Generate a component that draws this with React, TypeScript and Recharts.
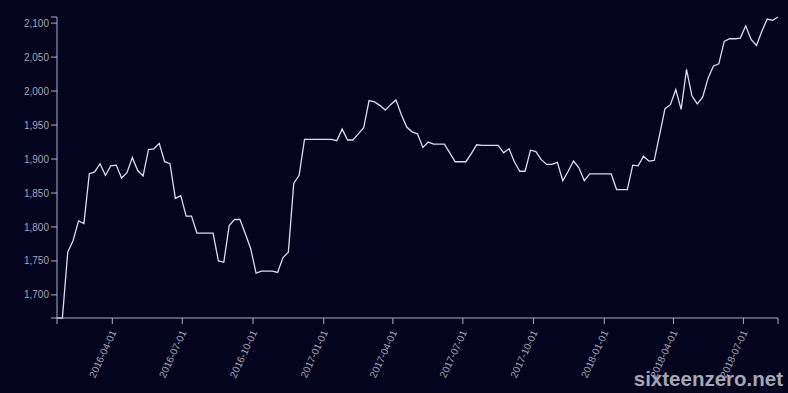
import { LineChart, Line, XAxis, YAxis } from 'recharts'

// weekly readings, first on 2016-01-20, last on 2018-08-15
const startDate = '2016-01-20'
const values = [
  1666, 1666, 1763, 1780, 1809, 1805, 1878, 1881, 1893, 1876,
  1890, 1891, 1872, 1880, 1902, 1883, 1875, 1914, 1915, 1923,
  1896, 1893, 1842, 1846, 1816, 1816, 1791, 1791, 1791, 1791,
  1750, 1748, 1802, 1811, 1811, 1790, 1768, 1732, 1735, 1735,
  1735, 1733, 1755, 1763, 1864, 1876, 1929, 1929, 1929, 1929,
  1929, 1929, 1927, 1944, 1928, 1928, 1937, 1946, 1986, 1984,
  1979, 1972, 1980, 1987, 1965, 1947, 1940, 1937, 1917, 1925,
  1922, 1922, 1922, 1909, 1896, 1896, 1896, 1908, 1921, 1920,
  1920, 1920, 1920, 1909, 1915, 1896, 1882, 1882, 1913, 1911,
  1899, 1892, 1892, 1895, 1868, 1882, 1897, 1887, 1868, 1878,
  1878, 1878, 1878, 1878, 1855, 1855, 1855, 1891, 1890, 1904,
  1897, 1898, 1936, 1974, 1980, 2002, 1973, 2032, 1993, 1981,
  1991, 2019, 2037, 2040, 2073, 2077, 2077, 2078, 2096, 2076,
  2067, 2088, 2106, 2104, 2109,
]
const xTickDates = [
  '2016-04-01', '2016-07-01', '2016-10-01', '2017-01-01', '2017-04-01',
  '2017-07-01', '2017-10-01', '2018-01-01', '2018-04-01', '2018-07-01',
]
const yTickValues = [1700, 1750, 1800, 1850, 1900, 1950, 2000, 2050, 2100]

const WEEK = 7 * 24 * 3600 * 1000
const t0 = Date.parse(startDate + 'T00:00:00Z')
const data = values.map((v, i) => ({ t: t0 + i * WEEK, value: v }))
const tFirst = data[0].t
const tLast = data[data.length - 1].t
const yMin = Math.min(...values)
const yMax = Math.max(...values)

// outer ticks at both ends of each axis, like d3's axis
const xTicks = [tFirst, ...xTickDates.map((d) => Date.parse(d + 'T00:00:00Z')), tLast]
const yTicks = [yMin, ...yTickValues, yMax]

const BG = '#04041e'
const AXIS = '#aeaec4'
const LABEL = '#a4a4b6'
const FONT = '"Liberation Sans", Arial, sans-serif'

const fmtDate = (t: number) => new Date(t).toISOString().slice(0, 10)

// eslint-disable-next-line @typescript-eslint/no-explicit-any
const DateTick = (props: any) => {
  const { x, y, payload } = props
  const t = payload.value as number
  if (t === tFirst || t === tLast) return <g />
  return (
    <g transform={`translate(${x + 2},${y + 3})`}>
      <text
        textAnchor="end"
        transform="rotate(-65)"
        dx="-0.2em"
        dy="0.35em"
        fill={LABEL}
        fontSize={10}
        fontFamily={FONT}
      >
        {fmtDate(t)}
      </text>
    </g>
  )
}

export default function App() {
  return (
    <div
      style={{
        position: 'fixed',
        left: 0,
        top: 0,
        width: 788,
        height: 393,
        background: BG,
        fontFamily: FONT,
      }}
    >
      <LineChart
        width={788}
        height={393}
        data={data}
        margin={{ top: 17, right: 10, left: 0, bottom: 0 }}
      >
        <XAxis
          dataKey="t"
          type="number"
          scale="linear"
          domain={[tFirst, tLast]}
          ticks={xTicks}
          interval={0}
          height={75}
          stroke={AXIS}
          tickLine={{ stroke: AXIS }}
          tickSize={6}
          tick={<DateTick />}
        />
        <YAxis
          type="number"
          domain={[yMin, yMax]}
          ticks={yTicks}
          interval={0}
          width={57}
          stroke={AXIS}
          tickLine={{ stroke: AXIS }}
          tickSize={6}
          tick={{ fill: LABEL, fontSize: 10, fontFamily: FONT }}
          tickFormatter={(v: number) =>
            v === yMin || v === yMax ? '' : v.toLocaleString('en-US')
          }
        />
        <Line
          type="linear"
          dataKey="value"
          stroke="#dcdcee"
          strokeWidth={1.3}
          dot={false}
          isAnimationActive={false}
        />
      </LineChart>
      <div
        style={{
          position: 'absolute',
          right: 5,
          top: 367,
          fontSize: 20.5,
          fontWeight: 'bold',
          color: '#a6a6b4',
          fontFamily: FONT,
          lineHeight: '24px',
        }}
      >
        sixteenzero.net
      </div>
    </div>
  )
}
